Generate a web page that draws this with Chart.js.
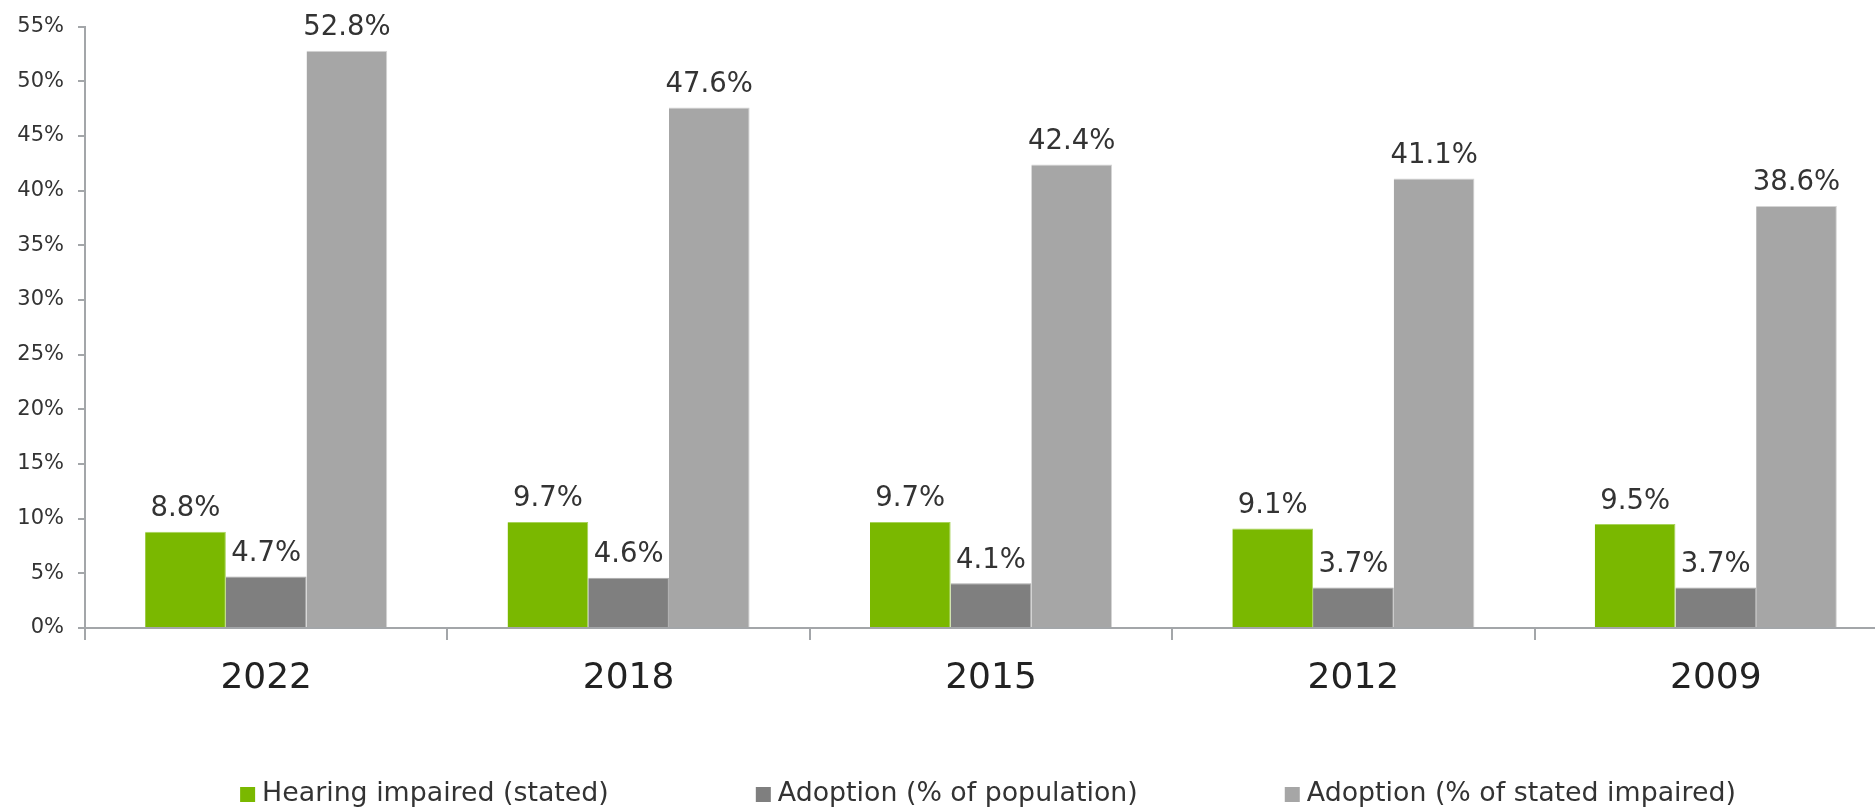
<!DOCTYPE html>
<html>
<head>
<meta charset="utf-8">
<script src="https://cdn.jsdelivr.net/npm/chart.js@4.4.1/dist/chart.umd.min.js"></script>
<style>
  html, body { margin: 0; padding: 0; background: #ffffff; overflow: hidden; }
  #wrap { width: 1900px; height: 812px; }
</style>
</head>
<body>
<div id="wrap"><canvas id="c" width="1900" height="812"></canvas></div>
<script>
const categories = ['2022', '2018', '2015', '2012', '2009'];
const seriesNames = ['Hearing impaired (stated)', 'Adoption (% of population)', 'Adoption (% of stated impaired)'];
const hearingImpaired = [8.8, 9.7, 9.7, 9.1, 9.5];
const adoptionPopulation = [4.7, 4.6, 4.1, 3.7, 3.7];
const adoptionImpaired = [52.8, 47.6, 42.4, 41.1, 38.6];
const yTicks = [0, 5, 10, 15, 20, 25, 30, 35, 40, 45, 50, 55];

const colors = ['#7ab800', '#7f7f7f', '#a6a6a6'];
const borders = ['#a8d35a', '#a9a9a9', '#d4d4d4'];
const axisColor = '#a3a6a9';
const textColor = '#333333';
const FONT = "'DejaVu Sans', Verdana, sans-serif";

const valueLabels = {
  id: 'valueLabels',
  afterDatasetsDraw(chart) {
    const ctx = chart.ctx;
    ctx.save();
    ctx.font = '27.5px ' + FONT;
    ctx.fillStyle = textColor;
    ctx.textAlign = 'center';
    ctx.textBaseline = 'alphabetic';
    chart.data.datasets.forEach((ds, i) => {
      const meta = chart.getDatasetMeta(i);
      meta.data.forEach((bar, j) => {
        ctx.fillText(ds.data[j].toFixed(1) + '%', bar.x, bar.y - 15.5);
      });
    });
    ctx.restore();
  }
};

const customLegend = {
  id: 'customLegend',
  afterDraw(chart) {
    const ctx = chart.ctx;
    ctx.save();
    ctx.font = '26.8px ' + FONT;
    ctx.textBaseline = 'middle';
    ctx.textAlign = 'left';
    const box = 15, gapText = 7, gapItem = 147;
    const widths = chart.data.datasets.map(ds => box + gapText + ctx.measureText(ds.label).width);
    const total = widths.reduce((a, b) => a + b, 0) + gapItem * (widths.length - 1);
    const ca = chart.chartArea;
    let x = (ca.left + ca.right) / 2 - 3 - total / 2;
    const yc = 794.5;
    chart.data.datasets.forEach((ds, i) => {
      ctx.fillStyle = ds.backgroundColor;
      ctx.fillRect(x, yc - box / 2, box, box);
      ctx.fillStyle = textColor;
      ctx.fillText(ds.label, x + box + gapText, yc);
      x += widths[i] + gapItem;
    });
    ctx.restore();
  }
};

const data = {
  labels: categories,
  datasets: [hearingImpaired, adoptionPopulation, adoptionImpaired].map((vals, i) => ({
    label: seriesNames[i],
    data: vals,
    backgroundColor: colors[i],
    borderColor: borders[i],
    borderWidth: { top: 1, right: 1, left: 0, bottom: 0 },
    barPercentage: 1.0,
    categoryPercentage: 0.668
  }))
};

new Chart(document.getElementById('c'), {
  type: 'bar',
  data,
  plugins: [valueLabels, customLegend],
  options: {
    responsive: false,
    devicePixelRatio: 1,
    animation: false,
    layout: { padding: { top: 24, right: 3, bottom: 0, left: 0 } },
    plugins: {
      legend: { display: false },
      tooltip: { enabled: false },
      title: { display: false }
    },
    scales: {
      x: {
        grid: {
          offset: true,
          drawOnChartArea: false,
          drawTicks: true,
          tickLength: 12,
          color: axisColor,
          lineWidth: 2
        },
        border: { display: true, color: axisColor, width: 2 },
        ticks: {
          color: '#222222',
          font: { family: FONT, size: 36 },
          padding: 17
        },
        afterFit(scale) { scale.height = 184; }
      },
      y: {
        min: 0,
        max: 55,
        afterBuildTicks(scale) { scale.ticks = yTicks.map(v => ({ value: v })); },
        grid: {
          drawOnChartArea: false,
          drawTicks: true,
          tickLength: 7,
          color: axisColor,
          lineWidth: 2
        },
        border: { display: true, color: axisColor, width: 2 },
        ticks: {
          color: textColor,
          font: { family: FONT, size: 21 },
          padding: 14,
          callback: v => v + '%'
        },
        afterFit(scale) { scale.width = 85; }
      }
    }
  }
});
</script>
</body>
</html>
